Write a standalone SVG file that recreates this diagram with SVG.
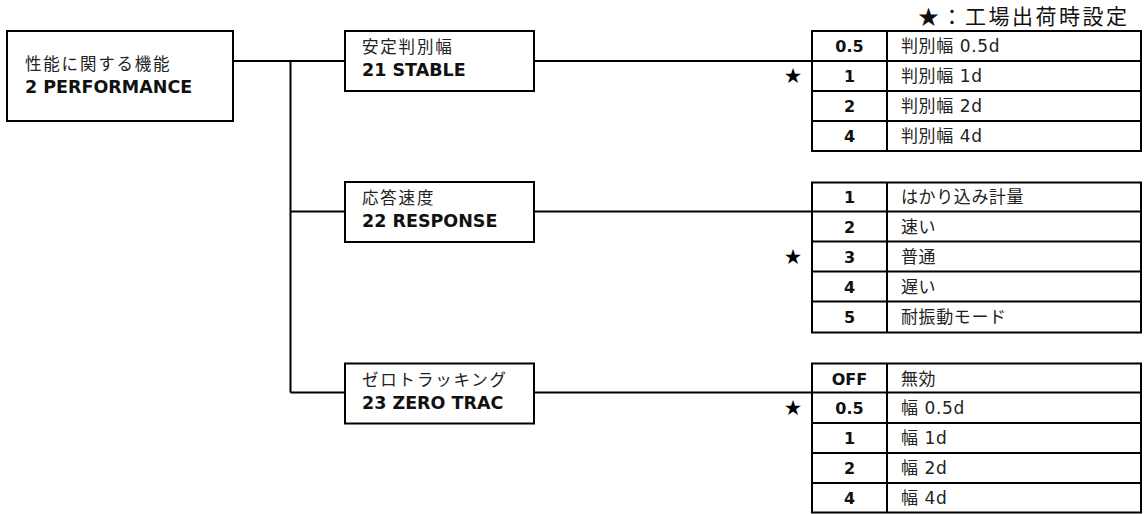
<svg xmlns="http://www.w3.org/2000/svg" width="1145" height="514" viewBox="0 0 1145 514">
<style>
.box{fill:#fff;stroke:#000;stroke-width:2}
.ln{fill:none;stroke:#000;stroke-width:2}
.jp{font-family:"Noto Sans CJK JP",sans-serif;font-size:16.5px;letter-spacing:1.8px;fill:#222}
.en{font-family:"DejaVu Sans","Noto Sans CJK JP",sans-serif;font-size:17.5px;font-weight:bold;fill:#111}
.num{font-family:"DejaVu Sans",sans-serif;font-size:16px;font-weight:bold;fill:#111;text-anchor:middle}
.lab{font-family:"DejaVu Sans","Noto Sans CJK JP",sans-serif;font-size:17px;letter-spacing:0.6px;fill:#222}
.star{font-family:"Noto Sans CJK JP",sans-serif;font-size:17px;fill:#000;text-anchor:middle}
.title{font-family:"Noto Sans CJK JP",sans-serif;font-size:21px;letter-spacing:2.5px;fill:#111}
</style>
<text class="title" x="918" y="24">★：工場出荷時設定</text>
<g id="connectors">
<path class="ln" d="M233 61H345M290.5 61V392.5M290.5 211.5H345M290.5 392.5H345"/>
<path class="ln" d="M534 61H812M534 211.5H812M534 392.5H812"/>
</g>
<g id="root">
<rect class="box" x="7" y="31" width="226" height="90"/>
<text class="jp" x="25" y="70">性能に関する機能</text>
<text class="en" x="25" y="93">2 PERFORMANCE</text>
</g>
<g id="stable">
<rect class="box" x="345" y="31" width="189" height="60"/>
<text class="jp" x="362" y="53">安定判別幅</text>
<text class="en" x="362" y="76">21 STABLE</text>
</g>
<g id="response">
<rect class="box" x="345" y="182" width="189" height="60"/>
<text class="jp" x="362" y="204">応答速度</text>
<text class="en" x="362" y="227">22 RESPONSE</text>
</g>
<g id="zerotrac">
<rect class="box" x="345" y="363.5" width="189" height="60"/>
<text class="jp" x="362" y="385.5">ゼロトラッキング</text>
<text class="en" x="362" y="408.5">23 ZERO TRAC</text>
</g>
<g id="table-stable">
<rect class="box" x="812" y="31" width="329" height="120"/>
<path class="ln" d="M887 31V151M812 61H1141M812 91H1141M812 121H1141"/>
<text class="num" x="849.5" y="52">0.5</text><text class="lab" x="901" y="52">判別幅 0.5d</text>
<text class="num" x="849.5" y="82">1</text><text class="lab" x="901" y="82">判別幅 1d</text>
<text class="num" x="849.5" y="112">2</text><text class="lab" x="901" y="112">判別幅 2d</text>
<text class="num" x="849.5" y="142">4</text><text class="lab" x="901" y="142">判別幅 4d</text>
<text class="star" x="793" y="82">★</text>
</g>
<g id="table-response">
<rect class="box" x="812" y="182.5" width="329" height="150"/>
<path class="ln" d="M887 182.5V332.5M812 211.5H1141M812 241.5H1141M812 271.5H1141M812 301.5H1141"/>
<text class="num" x="849.5" y="203">1</text><text class="lab" x="901" y="203">はかり込み計量</text>
<text class="num" x="849.5" y="233">2</text><text class="lab" x="901" y="233">速い</text>
<text class="num" x="849.5" y="263">3</text><text class="lab" x="901" y="263">普通</text>
<text class="num" x="849.5" y="293">4</text><text class="lab" x="901" y="293">遅い</text>
<text class="num" x="849.5" y="323">5</text><text class="lab" x="901" y="323">耐振動モード</text>
<text class="star" x="793" y="263">★</text>
</g>
<g id="table-zerotrac">
<rect class="box" x="812" y="363.5" width="329" height="149"/>
<path class="ln" d="M887 363.5V512.5M812 392.5H1141M812 423H1141M812 453H1141M812 483H1141"/>
<text class="num" x="849.5" y="385">OFF</text><text class="lab" x="901" y="385">無効</text>
<text class="num" x="849.5" y="414">0.5</text><text class="lab" x="901" y="414">幅 0.5d</text>
<text class="num" x="849.5" y="444">1</text><text class="lab" x="901" y="444">幅 1d</text>
<text class="num" x="849.5" y="474">2</text><text class="lab" x="901" y="474">幅 2d</text>
<text class="num" x="849.5" y="504">4</text><text class="lab" x="901" y="504">幅 4d</text>
<text class="star" x="793" y="414">★</text>
</g>
</svg>
